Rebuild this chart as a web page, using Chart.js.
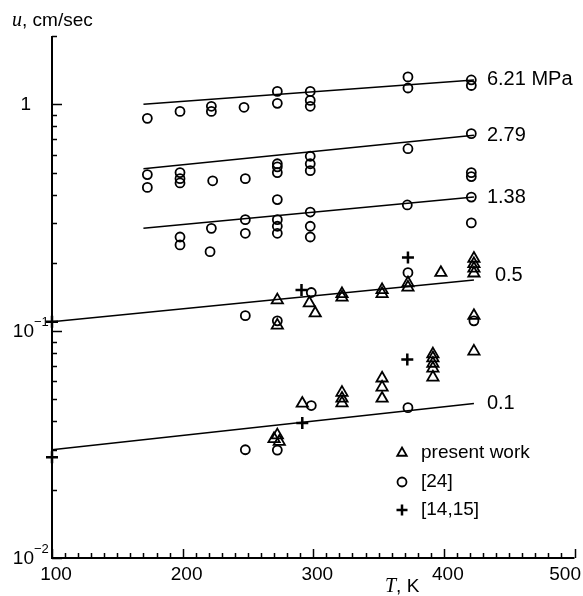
<!DOCTYPE html>
<html>
<head>
<meta charset="utf-8">
<script src="https://cdn.jsdelivr.net/npm/chart.js@4/dist/chart.umd.min.js"></script>
<style>
body { margin: 0; background: #fff; }
</style>
</head>
<body>
<canvas id="burnChart" width="583" height="596"></canvas>
<script>
// present work (triangles)
const presentT = [272.5, 272.5, 297, 301.5, 322, 322, 352.7, 352.7, 372.5, 372.5, 397.7, 423, 423, 423, 423, 423, 423,
    270, 272.5, 274, 291.6, 322, 322, 322, 352.7, 352.7, 352.7, 391.6, 391.6, 391.6, 391.6, 391.6];
const presentU = [0.137, 0.106, 0.133, 0.12, 0.146, 0.141, 0.152, 0.146, 0.163, 0.156, 0.181, 0.209, 0.198, 0.189, 0.18, 0.117, 0.0814,
    0.0335, 0.0348, 0.0326, 0.048, 0.0536, 0.0505, 0.0482, 0.062, 0.0565, 0.0505, 0.0792, 0.0761, 0.072, 0.0685, 0.0626];

// ref [24] (circles)
const ref24T = [173, 198, 222, 222, 247, 272.5, 272.5, 297.7, 297.7, 297.7, 372.5, 372.5, 421, 421,
    173, 173, 198, 198, 198, 223, 248, 272.5, 272.5, 272.5, 272.5, 297.7, 297.7, 297.7, 372.5, 421, 421, 421,
    198, 198, 222, 221, 248, 248, 272.5, 272.5, 272.5, 297.7, 297.7, 297.7, 372, 421, 421,
    298.5, 248, 272.5, 372.5, 423,
    298.5, 248, 272.5, 372.5];
const ref24U = [0.867, 0.93, 0.98, 0.93, 0.97, 1.14, 1.01, 1.14, 1.04, 0.98, 1.32, 1.18, 1.28, 1.21,
    0.49, 0.43, 0.5, 0.47, 0.45, 0.46, 0.47, 0.547, 0.53, 0.5, 0.38, 0.59, 0.547, 0.51, 0.637, 0.743, 0.5, 0.48,
    0.26, 0.24, 0.284, 0.224, 0.31, 0.27, 0.31, 0.29, 0.27, 0.335, 0.29, 0.26, 0.36, 0.39, 0.3,
    0.148, 0.117, 0.111, 0.181, 0.111,
    0.047, 0.03, 0.0299, 0.046];

// ref [14,15] (crosses)
const ref1415T = [100, 100, 291, 372.5, 372, 291.6];
const ref1415U = [0.11, 0.0278, 0.152, 0.211, 0.075, 0.0394];

// fitted lines, one per pressure
const fitLabels = ['6.21 MPa', '2.79', '1.38', '0.5', '0.1'];
const fitStartT = [170, 170, 170, 100, 100];
const fitEndT = [423, 423, 423, 423, 423];
const fitStartU = [1.0, 0.52, 0.284, 0.11, 0.030];
const fitEndU = [1.28, 0.73, 0.39, 0.168, 0.048];

const xTickValues = [100, 200, 300, 400, 500];
const yTickValues = [1, 0.1, 0.01];
const yTickBase = ['1', '10', '10'];
const yTickExp = ['', '\u22121', '\u22122'];

const legendNames = ['present work', '[24]', '[14,15]'];
const legendStyles = ['triangle', 'circle', 'cross'];

const toPoints = (ts, us) => ts.map((t, i) => ({ x: t, y: us[i] }));

const fitSets = fitLabels.map((label, i) => ({
    label: label,
    data: [{ x: fitStartT[i], y: fitStartU[i] }, { x: fitEndT[i], y: fitEndU[i] }],
    showLine: true,
    borderColor: '#000',
    borderWidth: 1.6,
    pointRadius: 0,
    clip: false
}));

const SANS = '"Liberation Sans", Arial, sans-serif';
const SERIF = '"Liberation Serif", "Times New Roman", serif';

const axesPlugin = {
    id: 'axesPlugin',
    afterDraw(chart) {
        const ctx = chart.ctx;
        const xs = chart.scales.x;
        const ys = chart.scales.y;
        const left = xs.left, right = xs.right, top = ys.top, bottom = ys.bottom;

        ctx.save();
        ctx.strokeStyle = '#000';
        ctx.fillStyle = '#000';
        ctx.lineWidth = 2;
        ctx.beginPath();
        ctx.moveTo(left, top);
        ctx.lineTo(left, bottom);
        ctx.lineTo(right, bottom);
        ctx.stroke();

        // x ticks, pointing inwards
        ctx.lineWidth = 1.5;
        ctx.beginPath();
        for (let t = 100; t <= 500; t += 10) {
            const px = Math.round(xs.getPixelForValue(t)) + 0.5;
            const len = t % 100 === 0 ? 9 : 5;
            ctx.moveTo(px, bottom);
            ctx.lineTo(px, bottom - len);
        }
        // y ticks
        const minorY = [2];
        [0.1, 0.01].forEach(d => { for (let k = 2; k <= 9; k++) minorY.push(k * d); });
        minorY.forEach(v => {
            const py = Math.round(ys.getPixelForValue(v)) + 0.5;
            ctx.moveTo(left, py);
            ctx.lineTo(left + 5, py);
        });
        yTickValues.forEach(v => {
            const py = Math.round(ys.getPixelForValue(v)) + 0.5;
            ctx.moveTo(left, py);
            ctx.lineTo(left + 10, py);
        });
        ctx.stroke();

        // x tick labels
        ctx.font = '19px ' + SANS;
        ctx.textBaseline = 'middle';
        ctx.textAlign = 'center';
        xTickValues.forEach(v => {
            let px = xs.getPixelForValue(v) + 4;
            const w = ctx.measureText(String(v)).width;
            if (px + w / 2 > 581) px = 581 - w / 2;
            ctx.fillText(String(v), px, bottom + 17);
        });

        // y tick labels with superscript exponents
        yTickValues.forEach((v, i) => {
            const py = ys.getPixelForValue(v);
            ctx.font = '19px ' + SANS;
            ctx.textAlign = 'right';
            if (yTickExp[i] === '') {
                ctx.fillText(yTickBase[i], left - 21, py);
            } else {
                ctx.fillText(yTickBase[i], left - 18, py + 1);
                ctx.font = '13px ' + SANS;
                ctx.textAlign = 'left';
                ctx.fillText(yTickExp[i], left - 18, py - 9);
            }
        });

        // axis titles
        ctx.textAlign = 'left';
        ctx.font = 'italic 20px ' + SERIF;
        ctx.fillText('u', 12, 21);
        let w = ctx.measureText('u').width;
        ctx.font = '19px ' + SANS;
        ctx.fillText(', cm/sec', 12 + w, 21);

        ctx.font = 'italic 20px ' + SERIF;
        ctx.fillText('T', 385, 587);
        w = ctx.measureText('T').width;
        ctx.font = '19px ' + SANS;
        ctx.fillText(', K', 385 + w, 587);

        // pressure labels at the end of each fitted line
        ctx.font = '20px ' + SANS;
        fitLabels.forEach((label, i) => {
            const px = xs.getPixelForValue(fitEndT[i]);
            const py = ys.getPixelForValue(fitEndU[i]);
            const dx = label === '0.5' ? 21 : 13;
            const dy = label === '0.5' ? -5 : 0;
            ctx.fillText(label, px + dx, py + dy);
        });

        // legend
        const legendY = [453, 482, 510];
        legendNames.forEach((name, i) => {
            ctx.lineWidth = legendStyles[i] === 'cross' ? 2.5 : 1.8;
            ctx.strokeStyle = '#000';
            ctx.fillStyle = 'rgba(0,0,0,0)';
            Chart.helpers.drawPoint(ctx, {
                pointStyle: legendStyles[i],
                radius: legendStyles[i] === 'circle' ? 4.5 : 5.5,
                rotation: 0,
                borderWidth: ctx.lineWidth
            }, 402, legendY[i]);
            ctx.fillStyle = '#000';
            ctx.font = '19px ' + SANS;
            ctx.fillText(name, 421, legendY[i]);
        });
        ctx.restore();
    }
};

new Chart(document.getElementById('burnChart'), {
    type: 'scatter',
    data: {
        datasets: [
            ...fitSets,
            {
                label: 'present work',
                data: toPoints(presentT, presentU),
                pointStyle: 'triangle',
                pointRadius: 6.5,
                borderColor: '#000',
                borderWidth: 1.8,
                backgroundColor: 'rgba(0,0,0,0)',
                clip: false
            },
            {
                label: '[24]',
                data: toPoints(ref24T, ref24U),
                pointStyle: 'circle',
                pointRadius: 4.5,
                borderColor: '#000',
                borderWidth: 1.8,
                backgroundColor: 'rgba(0,0,0,0)',
                clip: false
            },
            {
                label: '[14,15]',
                data: toPoints(ref1415T, ref1415U),
                pointStyle: 'cross',
                pointRadius: 6,
                borderColor: '#000',
                borderWidth: 2.5,
                clip: false
            }
        ]
    },
    options: {
        responsive: false,
        animation: false,
        events: [],
        layout: { padding: { left: 52, right: 7, top: 36, bottom: 38 } },
        plugins: {
            legend: { display: false },
            tooltip: { enabled: false }
        },
        scales: {
            x: { type: 'linear', min: 100, max: 500, display: false },
            y: { type: 'logarithmic', min: 0.01, max: 2, display: false }
        }
    },
    plugins: [axesPlugin]
});
</script>
</body>
</html>
